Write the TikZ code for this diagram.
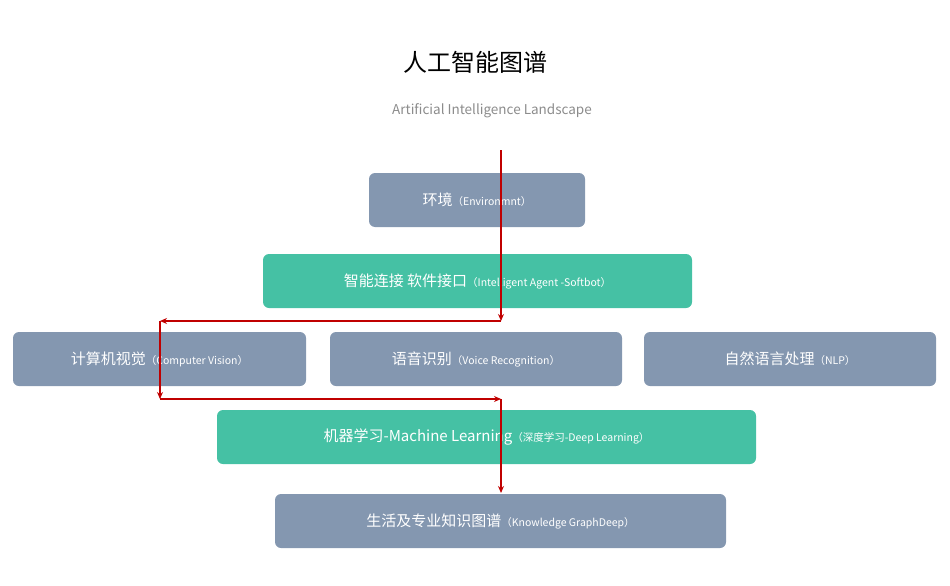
\documentclass[tikz,border=0pt]{standalone}
\usepackage{fontspec}
\setmainfont{Noto Sans CJK SC}
\usetikzlibrary{arrows.meta}
\definecolor{boxgray}{HTML}{8497B0}
\definecolor{boxgreen}{HTML}{45C1A4}
\definecolor{flowred}{HTML}{C00000}
\tikzset{
  box/.style={rounded corners=6pt,fill=boxgray,text=white,font=\fontsize{15}{18}\selectfont,inner sep=0pt},
  gbox/.style={box,fill=boxgreen},
  flow/.style={draw=flowred,line width=1.3pt,-{Stealth[length=7pt,width=6pt]}}
}
\newcommand{\en}[1]{{\fontsize{10.5}{12}\selectfont（#1）}}
\begin{document}
\begin{tikzpicture}[x=1pt,y=-1pt]
\useasboundingbox (0,0) rectangle (950,586);

\node at (475,62) {\fontsize{24}{28}\selectfont 人工智能图谱};
\node[text=black!45] at (492,111) {\fontsize{13.5}{16}\selectfont Artificial Intelligence Landscape};

% boxes
\node[box,minimum width=216pt,minimum height=54pt] (env) at (477,200) {环境\en{Environmnt}};
\node[gbox,minimum width=429pt,minimum height=54pt] (agent) at (477.5,281) {智能连接 软件接口\en{Intelligent Agent -Softbot}};
\node[box,minimum width=293pt,minimum height=54pt] (cv) at (159.5,359) {计算机视觉\en{Computer Vision}};
\node[box,minimum width=292pt,minimum height=54pt] (voice) at (476,359) {语音识别\en{Voice Recognition}};
\node[box,minimum width=292pt,minimum height=54pt] (nlp) at (790,359) {自然语言处理\en{NLP}};
\node[gbox,minimum width=539pt,minimum height=54pt] (ml) at (486.5,437) {机器学习-Machine Learning\en{深度学习-Deep Learning}};
\node[box,minimum width=451pt,minimum height=54pt] (kg) at (500.5,521) {生活及专业知识图谱\en{Knowledge GraphDeep}};

% flow
\coordinate (s) at (501,150);
\coordinate (a) at (501,321);
\coordinate (b) at (160,321);
\coordinate (c) at (160,399);
\coordinate (d) at (501,399);
\draw[flow] (s) -- (a);
\draw[flow] (a) -- (b);
\draw[flow] (b) -- (c);
\draw[flow] (c) -- (d);
\draw[flow] (d) -- (501,493);
\end{tikzpicture}
\end{document}
